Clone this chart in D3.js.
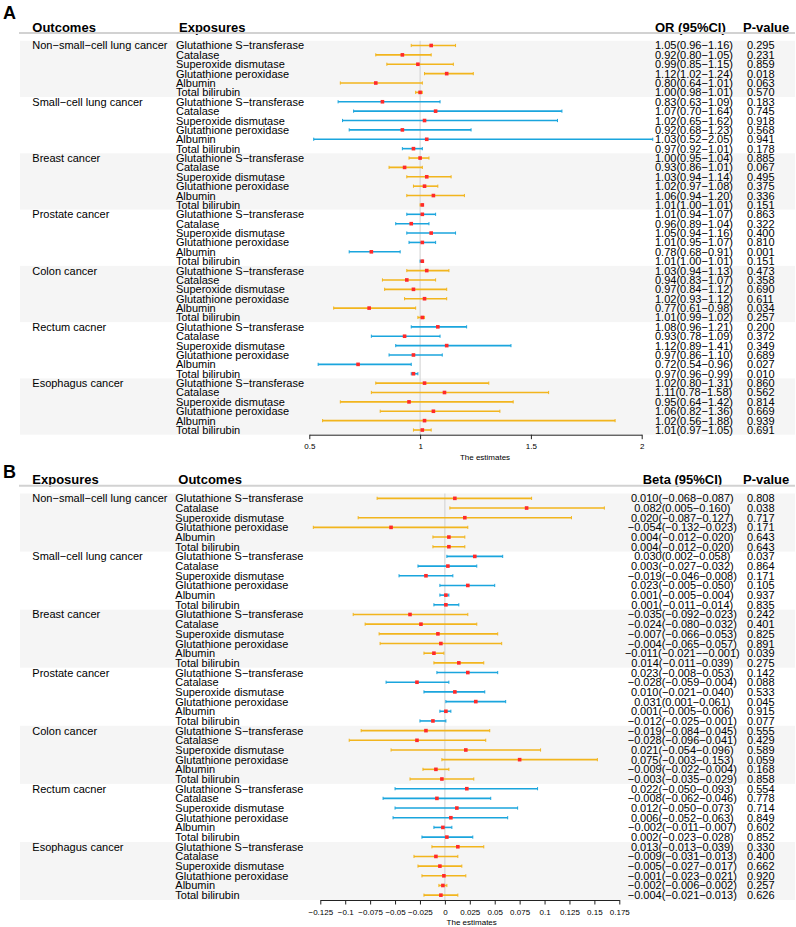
<!DOCTYPE html>
<html>
<head>
<meta charset="utf-8">
<script src="https://cdn.jsdelivr.net/npm/d3@7"></script>
<style>
  body { margin: 0; background: #fff; }
  svg text { font-family: "Liberation Sans", Arial, sans-serif; fill: #000; }
</style>
</head>
<body>
<div id="svg-forest"></div>
<script>
// cancer outcomes (panel A) / exposures (panel B)
var cancers = ["Non\u2212small\u2212cell lung cancer", "Small\u2212cell lung cancer",
  "Breast cancer", "Prostate cancer", "Colon cancer", "Rectum cacner", "Esophagus cancer"];
var markers = ["Glutathione S\u2212transferase", "Catalase", "Superoxide dismutase",
  "Glutathione peroxidase", "Albumin", "Total bilirubin"];

// panel A: odds ratios, one row per cancer x marker
var orEst = [1.05, 0.92, 0.99, 1.12, 0.80, 1.00,
  0.83, 1.07, 1.02, 0.92, 1.03, 0.97,
  1.00, 0.93, 1.03, 1.02, 1.06, 1.01,
  1.01, 0.96, 1.05, 1.01, 0.78, 1.01,
  1.03, 0.94, 0.97, 1.02, 0.77, 1.01,
  1.08, 0.93, 1.12, 0.97, 0.72, 0.97,
  1.02, 1.11, 0.95, 1.06, 1.02, 1.01];
var orLow = [0.96, 0.80, 0.85, 1.02, 0.64, 0.98,
  0.63, 0.70, 0.65, 0.68, 0.52, 0.92,
  0.95, 0.86, 0.94, 0.97, 0.94, 1.00,
  0.94, 0.89, 0.94, 0.95, 0.68, 1.00,
  0.94, 0.83, 0.84, 0.93, 0.61, 0.99,
  0.96, 0.78, 0.89, 0.86, 0.54, 0.96,
  0.80, 0.78, 0.64, 0.82, 0.56, 0.97];
var orHigh = [1.16, 1.05, 1.15, 1.24, 1.01, 1.01,
  1.09, 1.64, 1.62, 1.23, 2.05, 1.01,
  1.04, 1.01, 1.14, 1.08, 1.20, 1.01,
  1.07, 1.04, 1.16, 1.07, 0.91, 1.01,
  1.13, 1.07, 1.12, 1.12, 0.98, 1.02,
  1.21, 1.09, 1.41, 1.10, 0.96, 0.99,
  1.31, 1.58, 1.42, 1.36, 1.88, 1.05];
var orP = ["0.295", "0.231", "0.859", "0.018", "0.063", "0.570",
  "0.183", "0.745", "0.918", "0.568", "0.941", "0.178",
  "0.885", "0.067", "0.495", "0.375", "0.336", "0.151",
  "0.863", "0.322", "0.400", "0.810", "0.001", "0.151",
  "0.473", "0.358", "0.690", "0.611", "0.034", "0.257",
  "0.200", "0.372", "0.349", "0.689", "0.027", "0.010",
  "0.860", "0.562", "0.814", "0.669", "0.939", "0.691"];

// panel B: betas
var betaEst = [0.010, 0.082, 0.020, -0.054, 0.004, 0.004,
  0.030, 0.003, -0.019, 0.023, 0.001, 0.001,
  -0.035, -0.024, -0.007, -0.004, -0.011, 0.014,
  0.023, -0.028, 0.010, 0.031, 0.001, -0.012,
  -0.019, -0.028, 0.021, 0.075, -0.009, -0.003,
  0.022, -0.008, 0.012, 0.006, -0.002, 0.002,
  0.013, -0.009, -0.005, -0.001, -0.002, -0.004];
var betaLow = [-0.068, 0.005, -0.087, -0.132, -0.012, -0.012,
  0.002, -0.027, -0.046, -0.005, -0.005, -0.011,
  -0.092, -0.080, -0.066, -0.065, -0.021, -0.011,
  -0.008, -0.059, -0.021, 0.001, -0.005, -0.025,
  -0.084, -0.096, -0.054, -0.003, -0.022, -0.035,
  -0.050, -0.062, -0.050, -0.052, -0.011, -0.023,
  -0.013, -0.031, -0.027, -0.023, -0.006, -0.021];
var betaHigh = [0.087, 0.160, 0.127, 0.023, 0.020, 0.020,
  0.058, 0.032, 0.008, 0.050, 0.004, 0.014,
  0.023, 0.032, 0.053, 0.057, -0.001, 0.039,
  0.053, 0.004, 0.040, 0.061, 0.006, 0.001,
  0.045, 0.041, 0.096, 0.153, 0.004, 0.029,
  0.093, 0.046, 0.073, 0.063, 0.007, 0.028,
  0.039, 0.013, 0.017, 0.021, 0.002, 0.013];
var betaP = ["0.808", "0.038", "0.717", "0.171", "0.643", "0.643",
  "0.037", "0.864", "0.171", "0.105", "0.937", "0.835",
  "0.242", "0.401", "0.825", "0.891", "0.039", "0.275",
  "0.142", "0.088", "0.533", "0.045", "0.915", "0.077",
  "0.555", "0.429", "0.589", "0.059", "0.168", "0.858",
  "0.554", "0.778", "0.714", "0.849", "0.602", "0.852",
  "0.330", "0.400", "0.662", "0.920", "0.257", "0.626"];

// axis ticks
var orTicks = [0.5, 1, 1.5, 2];
var betaTicks = [-0.125, -0.1, -0.075, -0.05, -0.025, 0, 0.025, 0.05, 0.075, 0.1, 0.125, 0.15, 0.175];

var width = 796,
    height = 927,
    orange = "#f2b51d",
    blue = "#1aa5dd",
    red = "#ff2a2a";

var svg = d3.select("div#svg-forest")
  .append("svg")
  .attr("width", width)
  .attr("height", height);

/**
 * Draw one forest panel.
 * @param {object} p  panel settings and data arrays
 */
function drawPanel(p) {
    var g = svg.append("g");
    var n = p.est.length;

    var yScale = d3.scaleBand()
      .domain(d3.range(n))
      .range([p.top, p.bottom]);
    var xScale = d3.scaleLinear()
      .domain(p.domain)
      .range(p.xrange);
    var rowY = function(i) { return yScale(i) + yScale.bandwidth() / 2; };

    // panel letter
    g.append("text")
      .attr("x", 3).attr("y", p.letterY)
      .style("font-size", "18px").style("font-weight", "bold")
      .text(p.letter);

    // header
    var headers = [[p.h1, 32.3], [p.h2, p.h2x], [p.h3, p.h3x], ["P-value", 743]];
    g.selectAll("text.head")
      .data(headers)
      .enter().append("text")
      .attr("class", "head")
      .attr("x", function(d) { return d[1]; })
      .attr("y", p.headY)
      .style("font-size", "13px").style("font-weight", "bold")
      .text(function(d) { return d[0]; });
    g.append("line")
      .attr("x1", 19).attr("x2", 795)
      .attr("y1", p.headLine).attr("y2", p.headLine)
      .attr("stroke", "#d2d2d2").attr("stroke-width", 2);

    // shaded bands for every other group
    var groups = d3.range(cancers.length);
    g.selectAll("rect.band")
      .data(groups.filter(function(k) { return k % 2 == 0; }))
      .enter().append("rect")
      .attr("class", "band")
      .attr("x", 20).attr("width", 775)
      .attr("y", function(k) { return yScale(k * 6); })
      .attr("height", yScale.bandwidth() * 6)
      .attr("fill", "#f5f5f5");

    // reference line
    g.append("line")
      .attr("x1", xScale(p.ref)).attr("x2", xScale(p.ref))
      .attr("y1", p.top).attr("y2", p.bottom)
      .attr("stroke", "#d0d0d0").attr("stroke-width", 1);

    var rows = d3.range(n).map(function(i) {
        return {i: i, k: Math.floor(i / 6), est: p.est[i], lo: p.lo[i], hi: p.hi[i], pv: p.pv[i]};
    });
    var colour = function(d) { return d.k % 2 == 0 ? orange : blue; };

    // text columns
    var txt = g.append("g").style("font-size", "11px");
    txt.selectAll("text.grp")
      .data(groups)
      .enter().append("text")
      .attr("x", 32.3)
      .attr("y", function(k) { return rowY(k * 6) + 4; })
      .text(function(k) { return cancers[k]; });
    txt.selectAll("text.mk")
      .data(rows)
      .enter().append("text")
      .attr("x", p.h2x - 3)
      .attr("y", function(d) { return rowY(d.i) + 4; })
      .text(function(d) { return markers[d.i % 6]; });
    txt.selectAll("text.ci")
      .data(rows)
      .enter().append("text")
      .attr("x", p.ciX)
      .attr("text-anchor", p.ciAnchor)
      .attr("y", function(d) { return rowY(d.i) + 4; })
      .text(function(d) { return p.fmt(d.est) + "(" + p.fmt(d.lo) + "\u2212" + p.fmt(d.hi) + ")"; });
    txt.selectAll("text.pv")
      .data(rows)
      .enter().append("text")
      .attr("x", 747)
      .attr("y", function(d) { return rowY(d.i) + 4; })
      .text(function(d) { return d.pv; });

    // error bars
    var bars = g.selectAll("g.bar")
      .data(rows)
      .enter().append("g")
      .attr("transform", function(d) { return "translate(0," + rowY(d.i) + ")"; });
    bars.append("line")
      .attr("x1", function(d) { return xScale(d.lo); })
      .attr("x2", function(d) { return xScale(d.hi); })
      .attr("stroke", colour).attr("stroke-width", 1.6);
    bars.append("line")
      .attr("x1", function(d) { return xScale(d.lo); })
      .attr("x2", function(d) { return xScale(d.lo); })
      .attr("y1", -1.6).attr("y2", 1.6)
      .attr("stroke", colour).attr("stroke-width", 1);
    bars.append("line")
      .attr("x1", function(d) { return xScale(d.hi); })
      .attr("x2", function(d) { return xScale(d.hi); })
      .attr("y1", -1.6).attr("y2", 1.6)
      .attr("stroke", colour).attr("stroke-width", 1);
    bars.append("rect")
      .attr("x", function(d) { return xScale(d.est) - 1.8; })
      .attr("y", -1.8)
      .attr("width", 3.6).attr("height", 3.6)
      .attr("fill", red);

    // x-axis
    var axis = g.append("g")
      .attr("transform", "translate(0," + p.bottom + ")")
      .call(d3.axisBottom(xScale)
        .tickValues(p.ticks)
        .tickFormat(d3.format(""))
        .tickSizeInner(4.5)
        .tickSizeOuter(0)
        .tickPadding(4.5));
    axis.selectAll("text")
      .style("font-size", "8px")
      .style("font-family", "Liberation Sans, Arial, sans-serif")
      .attr("fill", "#222");
    axis.selectAll("path, line").attr("stroke", "#222");

    g.append("text")
      .attr("x", p.titleX).attr("y", p.titleY)
      .attr("text-anchor", "middle")
      .style("font-size", "8px")
      .attr("fill", "#222")
      .text("The estimates");
}

drawPanel({
    letter: "A", letterY: 18.5,
    h1: "Outcomes", h2: "Exposures", h2x: 179, h3: "OR (95%CI)", h3x: 655,
    headY: 31.5, headLine: 33,
    top: 40.8, bottom: 434.7,
    domain: [0.5, 2], xrange: [309.3, 641.7], ref: 1, ticks: orTicks,
    est: orEst, lo: orLow, hi: orHigh, pv: orP,
    fmt: d3.format(".2f"), ciX: 655, ciAnchor: "start",
    titleX: 485, titleY: 460
});

drawPanel({
    letter: "B", letterY: 477.7,
    h1: "Exposures", h2: "Outcomes", h2x: 178.3, h3: "Beta (95%CI)", h3x: 642.7,
    headY: 484, headLine: 485.7,
    top: 493.5, bottom: 900,
    domain: [-0.125, 0.175], xrange: [320.3, 619.3], ref: 0, ticks: betaTicks,
    est: betaEst, lo: betaLow, hi: betaHigh, pv: betaP,
    fmt: d3.format(".3f"), ciX: 682.3, ciAnchor: "middle",
    titleX: 471.7, titleY: 925
});
</script>
</body>
</html>
